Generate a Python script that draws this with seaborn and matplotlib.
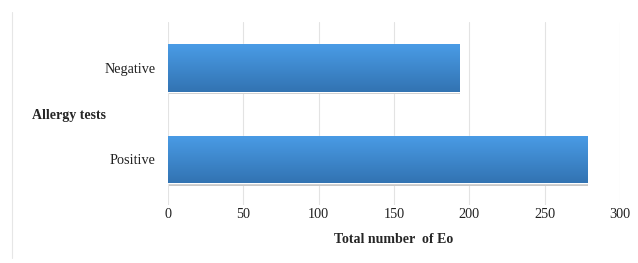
import matplotlib
matplotlib.use('Agg')
import matplotlib.pyplot as plt
import numpy as np
import pandas as pd
import seaborn as sns

# Data
categories = ['Negative', 'Positive']
totals = [193, 278]
x_ticks = [0, 50, 100, 150, 200, 250, 300]

df = pd.DataFrame({'test': categories, 'total': totals})

sns.set_theme(style="white")
plt.rcParams['font.family'] = ['Liberation Serif', 'DejaVu Serif']

fig = plt.figure(figsize=(6.38, 2.63), dpi=100)
ax = fig.add_axes([0.263, 0.22, 0.709, 0.696])

sns.barplot(data=df, x='total', y='test', orient='h', color='#3d87d0',
            width=0.52, saturation=1, ax=ax, zorder=2)

# vertical gradient on each bar (light top, darker bottom)
grad = np.linspace(0, 1, 256).reshape(-1, 1)
cmap = matplotlib.colors.LinearSegmentedColormap.from_list('bar', ['#4a9ce6', '#3273b2'])
for p in ax.patches:
    x0, y0 = p.get_x(), p.get_y()
    w, h = p.get_width(), p.get_height()
    # soft shadow
    sh = matplotlib.patches.Rectangle((x0 + 0.8, y0 + 0.03), w, h, color='#c8c8c8',
                                      zorder=1.5, lw=0)
    ax.add_patch(sh)
    im = ax.imshow(grad, cmap=cmap, aspect='auto', extent=(x0, x0 + w, y0 + h, y0),
                   origin='upper', zorder=2.1)
    im.set_clip_path(p)

ax.set_xlim(0, 300)
ax.set_ylim(1.5, -0.5)
ax.set_xticks(x_ticks)
ax.grid(axis='x', color='#e3e3e3', lw=0.8, zorder=0)
for s in ax.spines.values():
    s.set_visible(False)
ax.tick_params(axis='both', length=0, labelsize=10.3, colors='#222222')
ax.tick_params(axis='x', pad=2)
ax.tick_params(axis='y', pad=9)

ax.set_xlabel('Total number  of Eo', fontsize=10, fontweight='bold', labelpad=9)
ax.set_ylabel('Allergy tests', fontsize=10, fontweight='bold', rotation=0,
              ha='left', va='center')
ax.yaxis.set_label_coords(-0.30, 0.49)

# faint left border line as in the reference image
fig.add_artist(plt.Line2D([0.019, 0.019], [0.02, 0.955], color='#e6e6e6', lw=0.8))

fig.savefig('out.png', dpi=100)
